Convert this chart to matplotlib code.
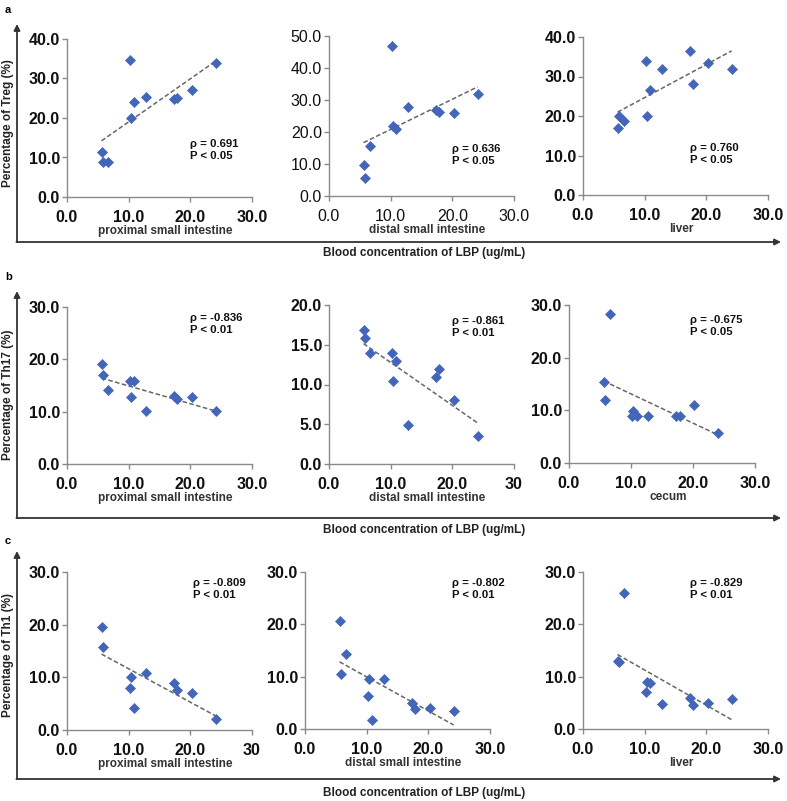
import numpy as np
import matplotlib
matplotlib.use("Agg")
import matplotlib.pyplot as plt

plt.rcParams['font.family'] = ['Liberation Sans', 'DejaVu Sans']

# Shared LBP concentrations (x values, ug/mL)
lbp = [5.6, 5.8, 6.6, 10.2, 10.4, 10.9, 12.8, 17.3, 17.9, 20.2, 24.1]

# Row a: Treg (%)
treg_prox = [11.3, 8.8, 8.9, 34.7, 20.0, 24.0, 25.3, 24.9, 25.1, 27.0, 33.9]
treg_dist = [9.7, 5.5, 15.6, 46.8, 22.0, 20.9, 27.9, 26.8, 26.1, 25.9, 31.8]
treg_liver = [16.9, 20.0, 18.8, 33.9, 20.0, 26.7, 31.8, 36.5, 28.0, 33.5, 31.8]

# Row b: Th17 (%)
th17_prox = [19.1, 17.0, 14.2, 15.9, 12.8, 15.9, 10.2, 12.9, 12.4, 12.8, 10.1]
th17_dist = [16.9, 15.9, 13.9, 13.9, 10.5, 12.9, 4.9, 11.0, 11.9, 8.0, 3.5]
th17_cecum = [15.3, 12.0, 28.2, 8.9, 9.9, 8.9, 9.0, 8.9, 8.9, 11.0, 5.7]

# Row c: Th1 (%)
th1_prox = [19.5, 15.7, np.nan, 8.0, 10.0, 4.2, 10.8, 9.0, 7.6, 7.0, 2.1]
th1_dist = [20.6, 10.5, 14.3, 6.4, 9.5, 1.8, 9.5, 4.9, 3.9, 4.0, 3.5]
th1_liver = [13.0, 12.8, 26.0, 7.0, 8.9, 8.8, 4.8, 6.0, 4.6, 5.0, 5.7]

x_ticks = [0, 10, 20, 30]

panels = [
    # (y data, tissue, ymax, ystep, rho text, p text, x tick labels, bold ticks)
    (treg_prox, "proximal small intestine", 40, 10, "\u03c1 = 0.691", "P < 0.05", ["0.0", "10.0", "20.0", "30.0"], True),
    (treg_dist, "distal small intestine", 50, 10, "\u03c1 = 0.636", "P < 0.05", ["0.0", "10.0", "20.0", "30.0"], False),
    (treg_liver, "liver", 40, 10, "\u03c1 = 0.760", "P < 0.05", ["0.0", "10.0", "20.0", "30.0"], True),
    (th17_prox, "proximal small intestine", 30, 10, "\u03c1 = -0.836", "P < 0.01", ["0.0", "10.0", "20.0", "30.0"], True),
    (th17_dist, "distal small intestine", 20, 5, "\u03c1 = -0.861", "P < 0.01", ["0.0", "10.0", "20.0", "30"], True),
    (th17_cecum, "cecum", 30, 10, "\u03c1 = -0.675", "P < 0.05", ["0.0", "10.0", "20.0", "30.0"], True),
    (th1_prox, "proximal small intestine", 30, 10, "\u03c1 = -0.809", "P < 0.01", ["0.0", "10.0", "20.0", "30"], True),
    (th1_dist, "distal small intestine", 30, 10, "\u03c1 = -0.802", "P < 0.01", ["0.0", "10.0", "20.0", "30.0"], True),
    (th1_liver, "liver", 30, 10, "\u03c1 = -0.829", "P < 0.01", ["0.0", "10.0", "20.0", "30.0"], True),
]

# pixel boxes: left, right, top, bottom ; annotation position (px)
boxes = [
    (67, 252, 39, 197, (190, 150)),
    (329, 514, 36, 196, (452, 155)),
    (583, 768, 37, 195, (690, 154)),
    (67, 252, 307, 464, (190, 324)),
    (329, 514, 305, 464, (452, 327)),
    (569, 755, 305, 463, (690, 326)),
    (67, 252, 572, 730, (193, 589)),
    (305, 490, 572, 729, (452, 589)),
    (583, 768, 572, 729, (690, 589)),
]

W, H = 787, 801
fig = plt.figure(figsize=(W / 100, H / 100), dpi=100)

blue = '#4366B8'
axis_gray = '#8a8a8a'

for (yv, tissue, ymax, ystep, rho, ptxt, xtl, bold), (L, R, T, B, ann) in zip(panels, boxes):
    ax = fig.add_axes([L / W, 1 - B / H, (R - L) / W, (B - T) / H])
    x = np.array(lbp, dtype=float)
    y = np.array(yv, dtype=float)
    m = ~np.isnan(y)
    ax.scatter(x[m], y[m], marker='D', s=26, color=blue, edgecolors=blue, linewidths=0.5, zorder=3, clip_on=False)
    k, b0 = np.polyfit(x[m], y[m], 1)
    xl = np.array([x[m].min(), x[m].max()])
    ax.plot(xl, k * xl + b0, ls=(0, (3, 1.6)), color='#666666', lw=1.1, zorder=2)
    ax.set_xlim(0, 30)
    ax.set_ylim(0, ymax)
    ax.set_xticks(x_ticks)
    ax.set_xticklabels(xtl)
    yt = np.arange(0, ymax + 0.01, ystep)
    ax.set_yticks(yt)
    ax.set_yticklabels([f"{v:.1f}" for v in yt])
    for s in ['top', 'right']:
        ax.spines[s].set_visible(False)
    for s in ['left', 'bottom']:
        ax.spines[s].set_color(axis_gray)
        ax.spines[s].set_linewidth(1.0)
    fw = 'bold' if bold else 'normal'
    ax.tick_params(axis='both', direction='out', length=3.6, width=1.0, color=axis_gray,
                   labelsize=11.5, labelcolor='#111111')
    ax.tick_params(axis='x', pad=6)
    ax.tick_params(axis='y', pad=1.5)
    for lab in ax.get_xticklabels() + ax.get_yticklabels():
        lab.set_fontweight(fw)
    ax.patch.set_alpha(0)
    # rho / P annotation
    fig.text(ann[0] / W, 1 - ann[1] / H, rho + "\n" + ptxt, fontsize=8.2, fontweight='bold',
             color='#111111', ha='left', va='center', linespacing=1.25)
    # tissue label
    fig.text(((L + R) / 2 + 6) / W, 1 - (B + 34) / H, tissue, fontsize=8.5, fontweight='bold',
             color='#333333', ha='center', va='center')

# outer frames with arrows, row letters, shared labels
rows = [
    ("a", "Percentage of Treg (%)", 24, 242, 10, 123, 253),
    ("b", "Percentage of Th17 (%)", 291, 518, 277, 395, 530),
    ("c", "Percentage of Th1 (%)", 551, 779, 541, 655, 793),
]
fr = fig.add_axes([0, 0, 1, 1])
fr.set_xlim(0, W)
fr.set_ylim(H, 0)
fr.axis('off')
for letter, ylab, top, bot, ly, ymid, bly in rows:
    fr.annotate('', xy=(17, top), xytext=(17, bot),
                arrowprops=dict(arrowstyle='-|>', color='#333333', lw=1.3, mutation_scale=9,
                                shrinkA=0, shrinkB=0))
    fr.annotate('', xy=(781, bot), xytext=(16.4, bot),
                arrowprops=dict(arrowstyle='-|>', color='#333333', lw=1.3, mutation_scale=9,
                                shrinkA=0, shrinkB=0))
    fr.text(5, ly, letter, fontsize=8, fontweight='bold', ha='left', va='center')
    fr.text(8, ymid, ylab, fontsize=8.5, fontweight='bold', rotation=90, ha='center', va='center',
            color='#222222')
    fr.text(424, bly, "Blood concentration of LBP (ug/mL)", fontsize=8.5, fontweight='bold',
            ha='center', va='center', color='#222222')

fig.savefig("out.png", dpi=100)
